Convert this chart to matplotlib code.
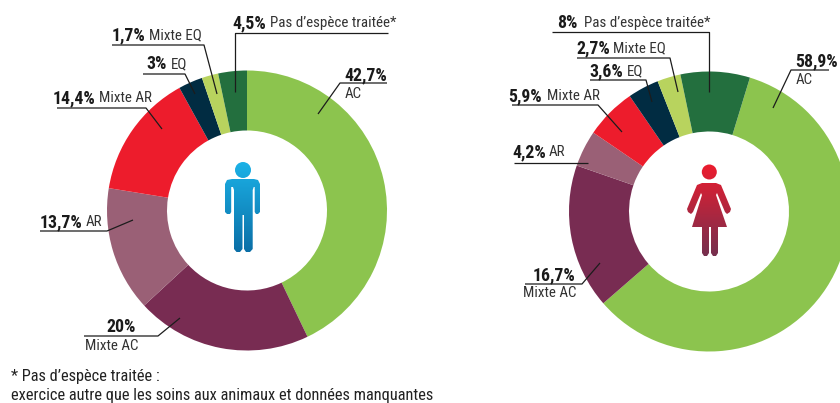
# -*- coding: utf-8 -*-
# two donuts, men / women, species treated
import matplotlib
matplotlib.use("Agg")
import matplotlib.pyplot as plt
import numpy as np
from matplotlib.patches import PathPatch
from matplotlib.path import Path
from matplotlib import font_manager as fm

names = ["AC", "Mixte AC", "AR", "Mixte AR", "EQ", "Mixte EQ", "Pas d’espèce traitée*"]
# slice sizes as they are drawn in the picture (men differ a bit from the printed labels)
men = [42.8, 20.2, 14.4, 14.4, 2.8, 1.9, 3.3]
women = [58.9, 16.7, 4.2, 5.9, 3.6, 2.7, 8]
men_txt = ["42,7%", "20%", "13,7%", "14,4%", "3%", "1,7%", "4,5%"]
women_txt = ["58,9%", "16,7%", "4,2%", "5,9%", "3,6%", "2,7%", "8%"]
colors = ["#8cc44e", "#782c52", "#9a6076", "#ed1c2c", "#012c42", "#b8d35e", "#236f3e"]
footnote = ["* Pas d’espèce traitée :",
            "exercice autre que les soins aux animaux et données manquantes"]

H = 403
avail = {f.name for f in fm.fontManager.ttflist}
narrow = "Liberation Sans"
for cand in ["Roboto Condensed", "PT Sans Narrow", "Archivo Narrow", "Liberation Sans Narrow"]:
    if cand in avail:
        narrow = cand
        break
FS_BOLD = 12.8
FS_NAME = 10.8

fig = plt.figure(figsize=(8.4, 4.03), dpi=100)
ax = fig.add_axes([0, 0, 1, 1])


def y_(y):
    return H - y


def label(pct, name, x_pct, x_name, y):
    ax.text(x_pct, y_(y), pct, fontsize=FS_BOLD, fontweight="bold", family=narrow,
            color="#1a1a1a", ha="left", va="center")
    ax.text(x_name, y_(y), name, fontsize=FS_NAME, family=narrow, color="#333333",
            ha="left", va="center")


def leader(pts):
    xs = [p[0] for p in pts]
    ys = [y_(p[1]) for p in pts]
    ax.plot(xs, ys, color="#1c1c1c", lw=0.9, solid_capstyle="butt")


# donuts
ax.pie(men, colors=colors, center=(247, y_(210.5)), radius=140, startangle=90,
       counterclock=False, wedgeprops=dict(width=60, linewidth=0))
ax.pie(women, colors=colors, center=(709, y_(211.5)), radius=140, startangle=73,
       counterclock=False, wedgeprops=dict(width=60, linewidth=0))
ax.axis("off")

# men labels
label(men_txt[6], names[6], 232, 270, 23)
leader([(388, 33), (235, 33), (235, 92)])
label(men_txt[5], names[5], 111.5, 149, 35)
leader([(112, 45), (204, 45), (217, 94)])
label(men_txt[4], names[4], 146.5, 171, 64)
leader([(143, 74), (185, 74), (195, 94)])
label(men_txt[3], names[3], 52.5, 99, 98)
leader([(57, 108), (146, 108), (162, 129)])
label(men_txt[0], names[0], 344.5, 345, 75)
ax.texts[-1].set_position((345, y_(94)))
leader([(387, 83), (340, 83), (318, 114)])
label(men_txt[2], names[2], 39.5, 86, 222)
leader([(40, 231), (107, 231), (133, 220)])
label(men_txt[1], names[1], 106.5, 85, 327)
ax.texts[-1].set_position((85, y_(346)))
leader([(84, 336), (158, 336), (180, 318)])

# women labels
label(women_txt[6], names[6], 557.5, 584, 23)
leader([(552, 32), (709, 32), (709, 92)])
label(women_txt[5], names[5], 576.5, 613, 48)
leader([(577, 58), (670, 58), (678, 92)])
label(women_txt[4], names[4], 589.5, 627, 71)
leader([(590, 80), (646, 80), (652, 102)])
label(women_txt[3], names[3], 508.5, 547, 96)
leader([(512, 105), (598, 105), (622, 132)])
label(women_txt[2], names[2], 512.5, 549, 152)
leader([(514, 163), (588, 163)])
label(women_txt[0], names[0], 795.5, 796, 61)
ax.texts[-1].set_position((796, y_(80)))
leader([(829, 70), (791, 70), (773, 108)])
label(women_txt[1], names[1], 532.5, 523, 275)
ax.texts[-1].set_position((523, y_(293)))
leader([(525, 284), (582, 284), (600, 263)])

# footnote
ax.text(11, y_(377), footnote[0], fontsize=11.8, family=narrow, color="#222222", va="center")
ax.text(11, y_(395.5), footnote[1], fontsize=11.8, family=narrow, color="#222222", va="center")


def gradient_icon(shape, x0, x1, y0, y1, top, bottom):
    # fill a path with a vertical gradient, clipped to the shape
    c0 = np.array(matplotlib.colors.to_rgb(top))
    c1 = np.array(matplotlib.colors.to_rgb(bottom))
    t = np.linspace(0, 1, 128)[:, None, None]
    img = c0[None, None, :] * (1 - t) + c1[None, None, :] * t
    im = ax.imshow(img, extent=(x0, x1, y_(y1), y_(y0)), origin="upper",
                   aspect="auto", zorder=3, interpolation="bilinear")
    patch = PathPatch(shape, transform=ax.transData, fc="none", ec="none")
    ax.add_patch(patch)
    im.set_clip_path(patch)


def poly(points):
    v = [(x, y_(y)) for x, y in points] + [(points[0][0], y_(points[0][1]))]
    c = [Path.MOVETO] + [Path.LINETO] * (len(points) - 1) + [Path.CLOSEPOLY]
    return Path(v, c)


# man
man = Path.make_compound_path(
    Path.circle((243, y_(170)), 8),
    poly([(232, 179), (254, 179), (258, 180), (260, 184), (260, 212), (258, 214),
          (256, 214), (254.7, 212), (254.7, 187), (253.7, 187), (252.7, 190), (252.7, 249),
          (250, 252), (246, 252), (244, 249), (244, 215), (242.5, 215), (242.5, 249),
          (240, 252), (236.5, 252), (234, 249), (234, 190), (233, 187), (231.2, 187),
          (231.2, 212), (230, 214), (227, 214), (225, 212), (225, 184), (227, 180)]),
)
gradient_icon(man, 220, 266, 160, 253, "#1cb3e8", "#0b6ea6")

# woman
woman = Path.make_compound_path(
    Path.circle((709.3, y_(172)), 7.5),
    poly([(702, 183), (716, 183), (721, 185), (731, 209), (730, 212), (727, 214),
          (725, 212), (717, 193), (716, 195), (727, 227), (718, 227), (718, 253),
          (716, 256), (713, 256), (711, 253), (711, 227), (709, 227), (709, 253),
          (707, 256), (704, 256), (702, 253), (702, 227), (692, 227), (702, 195),
          (701, 193), (693, 212), (691, 214), (688, 212), (687, 209), (697, 185)]),
)
gradient_icon(woman, 685, 733, 164, 257, "#ec1c2e", "#74304f")

ax.set_xlim(0, 840)
ax.set_ylim(0, H)
ax.set_aspect("auto")
fig.savefig("out.png", dpi=100)
